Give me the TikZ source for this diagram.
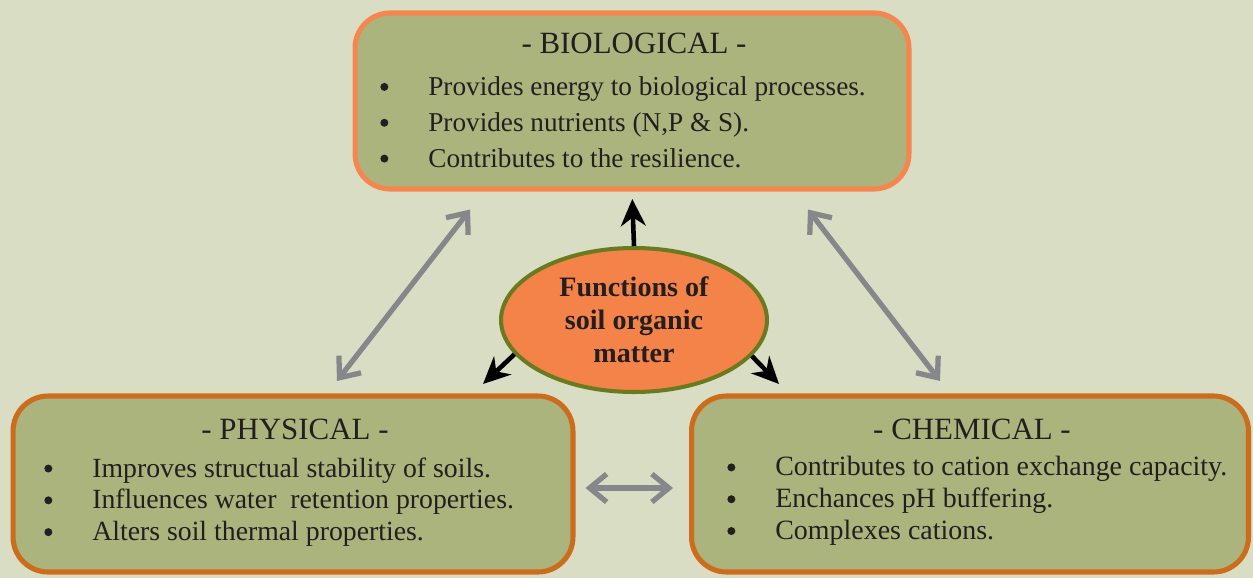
\documentclass[tikz,border=0pt]{standalone}
\usepackage{fontspec}
\setmainfont{Liberation Serif}
\usetikzlibrary{arrows.meta,shapes.geometric}
\definecolor{bgcol}{HTML}{D9DDC4}
\definecolor{boxfill}{HTML}{ABB47C}
\definecolor{biobord}{HTML}{F4874F}
\definecolor{boxbord}{HTML}{CC6D1D}
\definecolor{ovalfill}{HTML}{F4834A}
\definecolor{ovalbord}{HTML}{6A7A1E}
\definecolor{arrgray}{HTML}{85878B}
\definecolor{txt}{HTML}{231F20}
\newcommand{\bul}{\makebox[0.96cm][l]{\tikz[baseline=0pt]\fill[txt] (0.08cm,0.17cm) circle (0.08cm);}}
\begin{document}
\begin{tikzpicture}[x=0.02cm,y=-0.02cm,
  box/.style={draw,line width=2.9pt,rounded corners=0.7cm,fill=boxfill,minimum height=3.52cm},
  head/.style={text=txt,font=\fontsize{17.6}{20}\selectfont},
  items/.style={text=txt,anchor=west,align=left,inner sep=0pt},
  twoway/.style={draw=arrgray,line width=3pt,{Straight Barb[length=3.4mm,width=5.6mm]}-{Straight Barb[length=3.4mm,width=5.6mm]}},
  oneway/.style={draw=black,line width=2.6pt,-{Stealth[length=5.4mm,width=5mm]}}]
\useasboundingbox (0,0) rectangle (1253,578);
\fill[bgcol] (0,0) rectangle (1253,578);
\node[box,draw=biobord,minimum width=11.08cm] (bio) at (632,101) {};
\node[box,draw=boxbord,minimum width=11.2cm] (phys) at (293,484) {};
\node[box,draw=boxbord,minimum width=11.14cm] (chem) at (970,484) {};
\node[head] (biot) at (634,43) {- BIOLOGICAL -};
\node[head] (physt) at (295,429) {- PHYSICAL -};
\node[head] (chemt) at (972,429) {- CHEMICAL -};
\node[items,font=\fontsize{15.5}{20.4}\selectfont] (bioi) at (380,122) {\bul Provides energy to biological processes.\\ \bul Provides nutrients (N,P \& S).\\ \bul Contributes to the resilience.};
\node[items,font=\fontsize{15.8}{18.1}\selectfont] (physi) at (44,502) {\bul Improves structual stability of soils.\\ \bul Influences water~ retention properties.\\ \bul Alters soil thermal properties.};
\node[items,font=\fontsize{15.9}{18.1}\selectfont] (chemi) at (727,501) {\bul Contributes to cation exchange capacity.\\ \bul Enchances pH buffering.\\ \bul Complexes cations.};
\node[ellipse,draw=ovalbord,fill=ovalfill,line width=2.3pt,minimum width=5.32cm,minimum height=2.88cm,align=center,text=txt,font=\bfseries\fontsize{16}{18.7}\selectfont] (soil) at (634,320) {Functions of\\ soil organic\\ matter};
\coordinate (tophys) at (483,384);
\coordinate (tochem) at (779,384);
\draw[oneway,shorten >=1.5mm] (soil.north) -- (bio.south);
\draw[oneway] (soil.196) -- (tophys);
\draw[oneway] (soil.-17) -- (tochem);
\draw[twoway] ([xshift=-3.24cm,yshift=-0.36cm]bio.south) -- ([xshift=0.88cm,yshift=0.25cm]phys.north);
\draw[twoway] ([xshift=3.52cm,yshift=-0.36cm]bio.south) -- ([xshift=-0.6cm,yshift=0.25cm]chem.north);
\draw[twoway] ([xshift=0.2cm,yshift=-0.08cm]phys.east) -- ([xshift=-0.32cm,yshift=-0.08cm]chem.west);
\end{tikzpicture}
\end{document}
